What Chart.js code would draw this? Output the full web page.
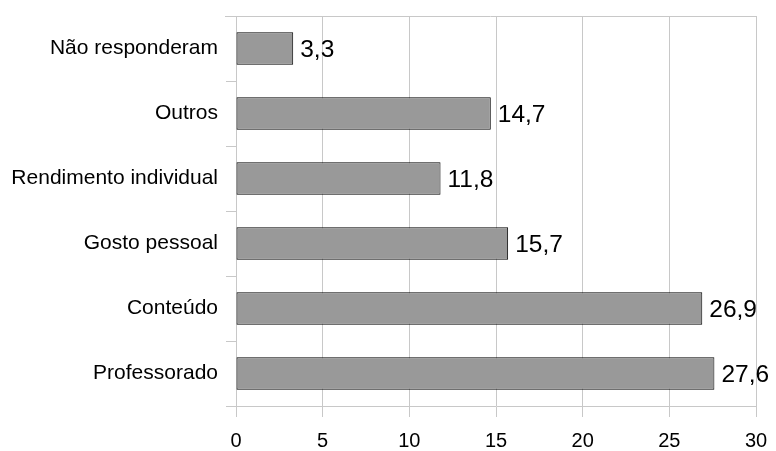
<!DOCTYPE html>
<html>
<head>
<meta charset="utf-8">
<script src="https://cdn.jsdelivr.net/npm/chart.js@4/dist/chart.umd.min.js"></script>
<style>
  html, body { margin: 0; padding: 0; background: #fff; }
  #wrap { width: 776px; height: 451px; }
</style>
</head>
<body>
<div id="wrap"><canvas id="chart"></canvas></div>
<script>
const categories = ["Não responderam", "Outros", "Rendimento individual", "Gosto pessoal", "Conteúdo", "Professorado"];
const values = [3.3, 14.7, 11.8, 15.7, 26.9, 27.6];
const xTicks = [0, 5, 10, 15, 20, 25, 30];

const gridColor = '#c8c8c8';
const fontFamily = '"Liberation Sans", Arial, sans-serif';

// writes the value next to each bar, decimal comma
const valueLabels = {
  id: 'valueLabels',
  afterDatasetsDraw(chart) {
    const ctx = chart.ctx;
    const meta = chart.getDatasetMeta(0);
    ctx.save();
    ctx.font = '24.5px ' + fontFamily;
    ctx.fillStyle = '#000';
    ctx.textBaseline = 'middle';
    ctx.textAlign = 'left';
    meta.data.forEach(function (bar, i) {
      ctx.fillText(values[i].toFixed(1).replace('.', ','), bar.x + 7, bar.y + 2);
    });
    ctx.restore();
  }
};

// top border line of the plot
const topLine = {
  id: 'topLine',
  beforeDatasetsDraw(chart) {
    const a = chart.chartArea;
    const ctx = chart.ctx;
    ctx.save();
    ctx.strokeStyle = gridColor;
    ctx.lineWidth = 1;
    ctx.beginPath();
    ctx.moveTo(a.left - 11, Math.round(a.top) + 0.5);
    ctx.lineTo(a.right, Math.round(a.top) + 0.5);
    ctx.stroke();
    ctx.restore();
  }
};

new Chart(document.getElementById('chart'), {
  type: 'bar',
  data: {
    labels: categories,
    datasets: [{
      data: values,
      backgroundColor: '#999999',
      borderColor: '#000',
      borderWidth: 1,
      borderSkipped: false,
      barPercentage: 0.5,
      categoryPercentage: 1
    }]
  },
  options: {
    indexAxis: 'y',
    responsive: true,
    maintainAspectRatio: false,
    animation: false,
    layout: { padding: { top: 16, right: 20, left: 0, bottom: 0 } },
    plugins: {
      legend: { display: false },
      tooltip: { enabled: false }
    },
    scales: {
      x: {
        min: 0,
        max: 30,
        afterBuildTicks(scale) { scale.ticks = xTicks.map(v => ({ value: v })); },
        afterFit(scale) { scale.height = 45; scale.paddingLeft = 0; scale.paddingRight = 0; },
        grid: { color: gridColor, tickLength: 11, drawTicks: true },
        border: { color: gridColor },
        ticks: {
          color: '#000',
          font: { family: fontFamily, size: 20 },
          padding: 12,
          maxRotation: 0
        }
      },
      y: {
        afterFit(scale) { scale.width = 236; scale.paddingTop = 0; scale.paddingBottom = 0; },
        grid: { color: gridColor, drawOnChartArea: false, tickLength: 10, offset: true },
        border: { display: false },
        ticks: {
          color: '#000',
          font: { family: fontFamily, size: 21 },
          padding: 8
        }
      }
    }
  },
  plugins: [valueLabels, topLine]
});
</script>
</body>
</html>
